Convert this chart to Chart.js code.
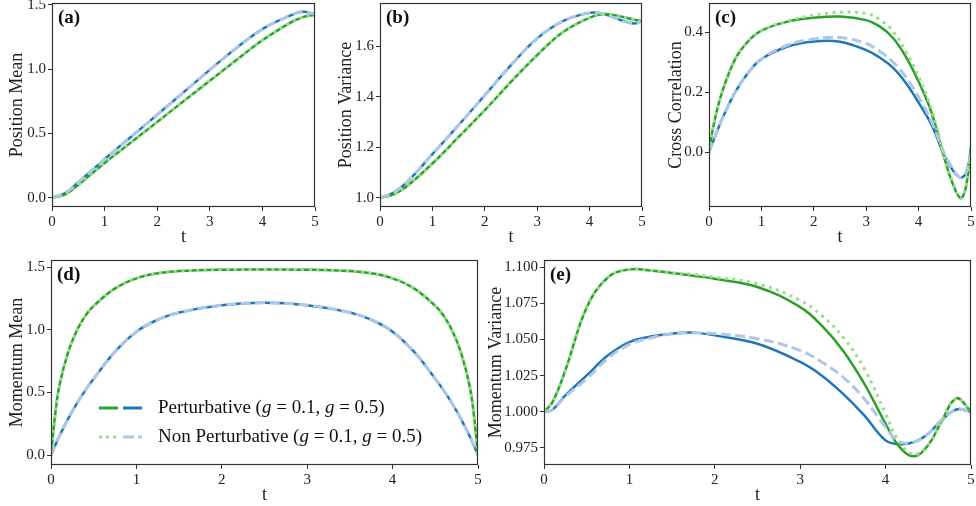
<!DOCTYPE html>
<html>
<head>
<meta charset="utf-8">
<script src="https://cdn.jsdelivr.net/npm/chart.js@4.4.0/dist/chart.umd.min.js"></script>
<style>
  body { margin: 0; background: #fff; width: 976px; height: 506px; overflow: hidden; position: relative; }
  .panel { position: absolute; }
</style>
</head>
<body>
<div class="panel" id="pa" style="left:0px;top:0px;width:320px;height:250px"><canvas></canvas></div>
<div class="panel" id="pb" style="left:320px;top:0px;width:327px;height:250px"><canvas></canvas></div>
<div class="panel" id="pc" style="left:645px;top:0px;width:331px;height:250px"><canvas></canvas></div>
<div class="panel" id="pd" style="left:0px;top:250px;width:483px;height:256px"><canvas></canvas></div>
<div class="panel" id="pe" style="left:480px;top:250px;width:496px;height:256px"><canvas></canvas></div>
<script>
// colours
var GREEN = '#2ca02c', BLUE = '#1f77b4', LGREEN = '#98df8a', LBLUE = '#aec7e8';
var FONT = '"Liberation Serif", "Times New Roman", serif';

// x ticks shared by all panels
var xTicks = [0, 1, 2, 3, 4, 5];

// (a) position mean
var tA = [0, 0.25, 0.5, 1, 1.5, 2, 2.5, 3, 3.5, 4, 4.5, 4.75, 5];
var posMeanP01 = [0, 0.026, 0.1, 0.27, 0.43, 0.59, 0.75, 0.91, 1.07, 1.225, 1.355, 1.402, 1.424];
var posMeanP05 = [0, 0.037, 0.12, 0.3, 0.472, 0.646, 0.82, 0.995, 1.163, 1.312, 1.412, 1.446, 1.429];
var posMeanN01 = posMeanP01.slice();
var posMeanN05 = posMeanP05.slice();
var yTicksA = [0, 0.5, 1.0, 1.5];

// (b) position variance
var tB = [0, 0.25, 0.5, 1, 1.5, 2, 2.5, 3, 3.5, 4, 4.25, 4.5, 4.85, 5];
var posVarP01 = [1.0, 1.013, 1.044, 1.136, 1.241, 1.347, 1.459, 1.565, 1.657, 1.713, 1.727, 1.722, 1.705, 1.70];
var posVarP05 = [1.0, 1.02, 1.059, 1.173, 1.288, 1.406, 1.525, 1.631, 1.70, 1.732, 1.729, 1.71, 1.69, 1.70];
var posVarN01 = posVarP01.slice();
var posVarN05 = posVarP05.slice();
var yTicksB = [1.0, 1.2, 1.4, 1.6];

// (c) cross correlation
var tC = [0, 0.1, 0.25, 0.5, 0.75, 1, 1.5, 2, 2.5, 3, 3.25, 3.5, 3.75, 4, 4.25, 4.5, 4.65, 4.8, 4.9, 5];
var crossP01 = [0, 0.1, 0.2, 0.31, 0.37, 0.405, 0.435, 0.448, 0.452, 0.44, 0.42, 0.383, 0.32, 0.235, 0.13, -0.025, -0.105, -0.153, -0.12, 0.02];
var crossN01 = [0, 0.1, 0.2, 0.31, 0.37, 0.405, 0.437, 0.456, 0.466, 0.462, 0.443, 0.405, 0.338, 0.252, 0.14, -0.02, -0.1, -0.155, -0.12, 0.02];
var crossP05 = [0, 0.045, 0.11, 0.2, 0.265, 0.31, 0.352, 0.369, 0.368, 0.34, 0.316, 0.283, 0.232, 0.165, 0.09, -0.015, -0.06, -0.085, -0.07, -0.005];
var crossN05 = [0, 0.045, 0.11, 0.2, 0.265, 0.31, 0.357, 0.377, 0.382, 0.362, 0.337, 0.302, 0.252, 0.184, 0.1, -0.008, -0.055, -0.085, -0.07, -0.005];
var yTicksC = [0.0, 0.2, 0.4];

// (d) momentum mean
var tD = [0, 0.05, 0.1, 0.2, 0.3, 0.4, 0.5, 0.75, 1, 1.25, 1.5, 2, 2.5, 3, 3.5, 3.75, 4, 4.25, 4.5, 4.6, 4.7, 4.8, 4.9, 4.95, 5];
var momMeanP01 = [0, 0.33, 0.56, 0.82, 0.99, 1.11, 1.19, 1.33, 1.41, 1.45, 1.468, 1.479, 1.481, 1.479, 1.468, 1.45, 1.41, 1.33, 1.19, 1.11, 0.99, 0.82, 0.56, 0.33, 0];
var momMeanP05 = [0, 0.08, 0.155, 0.29, 0.41, 0.515, 0.61, 0.825, 0.985, 1.08, 1.138, 1.196, 1.215, 1.196, 1.138, 1.08, 0.985, 0.825, 0.61, 0.515, 0.41, 0.29, 0.155, 0.08, 0];
var momMeanN01 = momMeanP01.slice();
var momMeanN05 = momMeanP05.slice();
var yTicksD = [0, 0.5, 1.0, 1.5];

// (e) momentum variance
var tE = [0, 0.1, 0.25, 0.5, 0.75, 1, 1.25, 1.5, 1.75, 2, 2.5, 3, 3.25, 3.5, 3.75, 4, 4.15, 4.33, 4.5, 4.65, 4.83, 5];
var momVarP01 = [1.0, 1.0067, 1.0286, 1.072, 1.093, 1.0984, 1.0977, 1.0959, 1.094, 1.0919, 1.0862, 1.0723, 1.0597, 1.0424, 1.0194, 0.9917, 0.9767, 0.9692, 0.977, 0.9927, 1.0093, 1.0];
var momVarN01 = [1.0, 1.0067, 1.0286, 1.072, 1.093, 1.0984, 1.0977, 1.0962, 1.095, 1.093, 1.0885, 1.077, 1.0666, 1.0517, 1.0298, 0.9986, 0.98, 0.9705, 0.977, 0.9927, 1.0093, 1.0];
var momVarP05 = [1.0, 1.0014, 1.0113, 1.0251, 1.039, 1.0482, 1.052, 1.054, 1.0547, 1.0528, 1.047, 1.0344, 1.0251, 1.0125, 0.9975, 0.9802, 0.9776, 0.9790, 0.9848, 0.9939, 1.0016, 1.0];
var momVarN05 = [1.0, 1.0014, 1.0105, 1.0228, 1.037, 1.0466, 1.051, 1.054, 1.0545, 1.054, 1.0505, 1.0424, 1.0344, 1.024, 1.009, 0.9894, 0.9795, 0.979, 0.9848, 0.9939, 1.0016, 1.0];
var yTicksE = [0.975, 1.000, 1.025, 1.050, 1.075, 1.100];

function pts(t, v) {
  return t.map(function(x, i) { return { x: x, y: v[i] }; });
}

function series(t, v, color, dash, width, order) {
  return {
    data: pts(t, v),
    borderColor: color,
    borderWidth: width,
    borderDash: dash,
    pointRadius: 0,
    tension: 0.4,
    fill: false,
    order: order
  };
}

var framePlugin = {
  id: 'frame',
  afterDraw: function(chart) {
    var a = chart.chartArea, ctx = chart.ctx;
    ctx.save();
    ctx.strokeStyle = '#333';
    ctx.lineWidth = 1.2;
    ctx.strokeRect(Math.round(a.left) + 0.5, Math.round(a.top) + 0.5,
      Math.round(a.right - a.left) - 1, Math.round(a.bottom - a.top) - 1);
    var tag = chart.options.plugins.frame.tag;
    ctx.fillStyle = '#111';
    ctx.font = 'bold 19px ' + FONT;
    ctx.textBaseline = 'middle';
    ctx.textAlign = 'left';
    ctx.fillText(tag, a.left + 6, a.top + 15);
    ctx.restore();
  }
};

function drawHandle(ctx, x0, x1, y, color, dash) {
  ctx.beginPath();
  ctx.strokeStyle = color;
  ctx.lineWidth = 3;
  ctx.setLineDash(dash);
  ctx.moveTo(x0, y);
  ctx.lineTo(x1, y);
  ctx.stroke();
  ctx.setLineDash([]);
}

function drawMathText(ctx, parts, x, y) {
  parts.forEach(function(p) {
    ctx.font = (p[1] ? 'italic ' : '') + '19px ' + FONT;
    ctx.fillText(p[0], x, y);
    x += ctx.measureText(p[0]).width;
  });
}

var legendPlugin = {
  id: 'tupleLegend',
  afterDraw: function(chart) {
    if (!chart.options.plugins.tupleLegend.show) return;
    var a = chart.chartArea, ctx = chart.ctx;
    var x = a.left + 48, y1 = a.top + 148, y2 = a.top + 177;
    ctx.save();
    drawHandle(ctx, x, x + 19, y1, GREEN, []);
    drawHandle(ctx, x + 24, x + 43, y1, BLUE, []);
    drawHandle(ctx, x, x + 19, y2, LGREEN, [3, 4]);
    drawHandle(ctx, x + 24, x + 43, y2, LBLUE, [11, 4]);
    ctx.fillStyle = '#111';
    ctx.textBaseline = 'middle';
    ctx.textAlign = 'left';
    var tail = [['g', true], [' = 0.1, ', false], ['g', true], [' = 0.5)', false]];
    drawMathText(ctx, [['Perturbative (', false]].concat(tail), x + 59, y1);
    drawMathText(ctx, [['Non Perturbative (', false]].concat(tail), x + 59, y2);
    ctx.restore();
  }
};

function makePanel(id, opt) {
  var canvas = document.querySelector('#' + id + ' canvas');
  return new Chart(canvas.getContext('2d'), {
    type: 'line',
    data: {
      datasets: [
        series(opt.t, opt.n01, LGREEN, [3, 4.5], 3, 0),
        series(opt.t, opt.n05, LBLUE, [10, 4.5], 3, 0),
        series(opt.t, opt.p01, GREEN, [], 2.5, 1),
        series(opt.t, opt.p05, BLUE, [], 2.5, 1)
      ]
    },
    options: {
      responsive: true,
      maintainAspectRatio: false,
      animation: false,
      layout: { padding: { left: 0, top: opt.pt, right: 5, bottom: 0 } },
      plugins: {
        legend: { display: false },
        tooltip: { enabled: false },
        frame: { tag: opt.tag },
        tupleLegend: { show: !!opt.legend }
      },
      scales: {
        x: {
          type: 'linear',
          min: 0,
          max: 5,
          afterBuildTicks: function(s) { s.ticks = xTicks.map(function(v) { return { value: v }; }); },
          afterFit: function(s) { s.height = opt.xh; s.paddingLeft = 0; s.paddingRight = 0; },
          border: { display: false },
          grid: { drawOnChartArea: false, drawTicks: true, tickLength: 4, tickColor: '#333', lineWidth: 1 },
          ticks: {
            color: '#222', padding: 2, maxRotation: 0,
            font: { family: FONT, size: 15 },
            callback: function(v) { return String(v); }
          },
          title: { display: true, text: 't', color: '#222', font: { family: FONT, size: 18 }, padding: { top: 0, bottom: opt.xpb } }
        },
        y: {
          type: 'linear',
          min: opt.ymin,
          max: opt.ymax,
          afterBuildTicks: function(s) { s.ticks = opt.yTicks.map(function(v) { return { value: v }; }); },
          afterFit: function(s) { s.width = opt.yw; s.paddingTop = 0; s.paddingBottom = 0; },
          border: { display: false },
          grid: { drawOnChartArea: false, drawTicks: true, tickLength: 4, tickColor: '#333', lineWidth: 1 },
          ticks: {
            color: '#222', padding: 2,
            font: { family: FONT, size: 15 },
            callback: function(v) { return Number(v).toFixed(opt.dec); }
          },
          title: { display: true, text: opt.ylabel, color: '#222', font: { family: FONT, size: 18 }, padding: { top: opt.ypt, bottom: 0 } }
        }
      }
    },
    plugins: [framePlugin, legendPlugin]
  });
}

makePanel('pa', { tag: '(a)', t: tA, p01: posMeanP01, p05: posMeanP05, n01: posMeanN01, n05: posMeanN05,
  ymin: -0.072, ymax: 1.515, yTicks: yTicksA, dec: 1, ylabel: 'Position Mean',
  yw: 52, xh: 43, pt: 3, ypt: 6.7, xpb: 2 });
makePanel('pb', { tag: '(b)', t: tB, p01: posVarP01, p05: posVarP05, n01: posVarN01, n05: posVarN05,
  ymin: 0.964, ymax: 1.771, yTicks: yTicksB, dec: 1, ylabel: 'Position Variance',
  yw: 60, xh: 43, pt: 3, ypt: 15, xpb: 2 });
makePanel('pc', { tag: '(c)', t: tC, p01: crossP01, p05: crossP05, n01: crossN01, n05: crossN05,
  ymin: -0.183, ymax: 0.497, yTicks: yTicksC, dec: 1, ylabel: 'Cross Correlation',
  yw: 64, xh: 43, pt: 3, ypt: 20, xpb: 2 });
makePanel('pd', { tag: '(d)', t: tD, p01: momMeanP01, p05: momMeanP05, n01: momMeanN01, n05: momMeanN05,
  ymin: -0.078, ymax: 1.556, yTicks: yTicksD, dec: 1, ylabel: 'Momentum Mean',
  yw: 51, xh: 41, pt: 10, ypt: 6.7, xpb: 0, legend: true });
makePanel('pe', { tag: '(e)', t: tE, p01: momVarP01, p05: momVarP05, n01: momVarN01, n05: momVarN05,
  ymin: 0.9632, ymax: 1.1049, yTicks: yTicksE, dec: 3, ylabel: 'Momentum Variance',
  yw: 64, xh: 41, pt: 10, ypt: 5, xpb: 0 });
</script>
</body>
</html>
